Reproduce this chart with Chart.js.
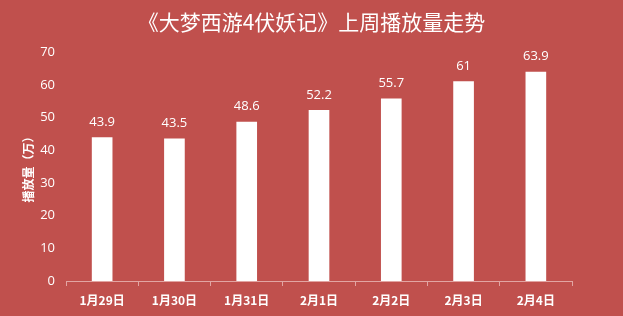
<!DOCTYPE html>
<html><head><meta charset="utf-8">
<script src="https://cdn.jsdelivr.net/npm/chart.js@4"></script>
<style>html,body{margin:0;padding:0;background:#C0504D;}#wrap{width:623px;height:316px;}</style>
</head><body><div id="wrap"><canvas id="c" width="623" height="316"></canvas></div>
<script>
const categories = ["1月29日","1月30日","1月31日","2月1日","2月2日","2月3日","2月4日"];
const values = [43.9, 43.5, 48.6, 52.2, 55.7, 61, 63.9];
const yTicks = [0,10,20,30,40,50,60,70];
const titleText = "《大梦西游4伏妖记》上周播放量走势";
const yTitle = "播放量（万）";

const labelPlugin = {
  id: 'valLabels',
  afterDatasetsDraw(chart) {
    const ctx = chart.ctx;
    const meta = chart.getDatasetMeta(0);
    ctx.save();
    ctx.fillStyle = '#ffffff';
    ctx.font = '13px "Open Sans", "Noto Sans", sans-serif';
    ctx.textAlign = 'center';
    ctx.textBaseline = 'bottom';
    meta.data.forEach((bar, i) => {
      ctx.fillText(String(values[i]), bar.x, bar.y - 9);
    });
    ctx.restore();
  }
};

new Chart(document.getElementById('c'), {
  type: 'bar',
  data: { labels: categories, datasets: [{ data: values, backgroundColor: '#ffffff', barThickness: 20 }] },
  options: {
    responsive: false, animation: false, devicePixelRatio: 1,
    layout: { padding: 0 },
    plugins: {
      legend: { display: false }, tooltip: { enabled: false },
      title: { display: true, text: titleText, color: '#ffffff',
        font: { family: '"Noto Sans CJK SC", sans-serif', size: 21, weight: 'normal' },
        padding: { top: 9, bottom: 18 } }
    },
    scales: {
      x: {
        offset: true,
        grid: { display: true, offset: true, drawOnChartArea: false, tickLength: 5, color: '#E2A5A3' },
        border: { display: true, color: '#E2A5A3' },
        ticks: { color: '#ffffff', padding: 7, font: { family: '"Noto Sans CJK SC", sans-serif', size: 12, weight: 'bold' } },
        afterFit(s) { s.height = 35; }
      },
      y: {
        min: 0, max: 70,
        afterBuildTicks(s) { s.ticks = yTicks.map(v => ({ value: v })); },
        grid: { display: false, drawTicks: false, tickLength: 0 }, border: { display: false },
        ticks: { color: '#ffffff', padding: 11, font: { family: '"Open Sans", "Noto Sans", sans-serif', size: 13 } },
        title: { display: true, text: yTitle, color: '#ffffff', padding: { top: 21, bottom: 0 },
          font: { family: '"Noto Sans CJK SC", sans-serif', size: 12, weight: 'bold' } },
        afterFit(s) { s.width = 66; }
      },
      yR: {
        position: 'right', min: 0, max: 70,
        grid: { display: false, drawTicks: false }, border: { display: false },
        ticks: { display: false },
        afterFit(s) { s.width = 51; }
      }
    }
  },
  plugins: [labelPlugin]
});
</script></body></html>
